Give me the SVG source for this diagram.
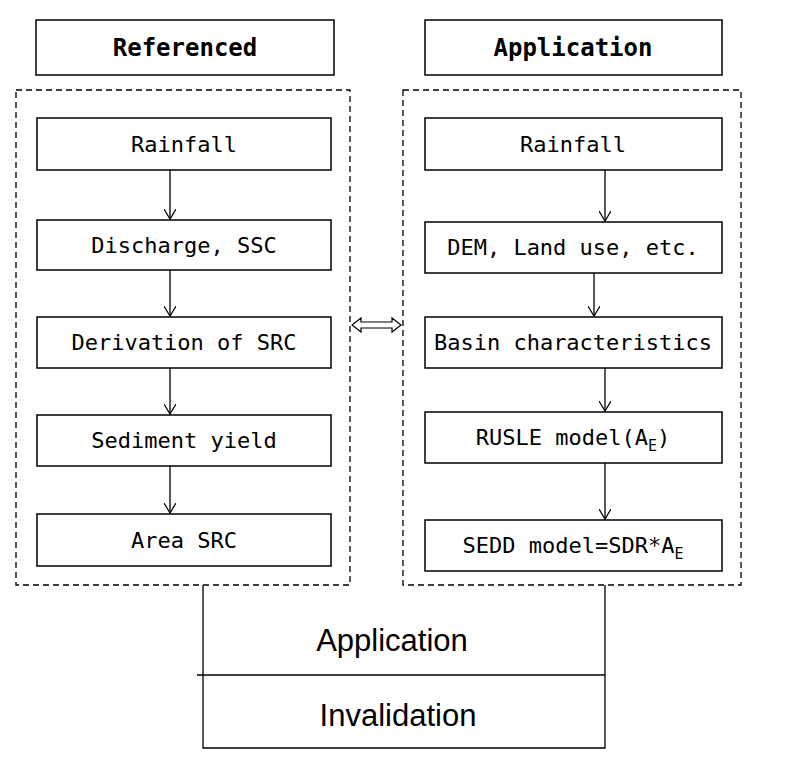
<svg xmlns="http://www.w3.org/2000/svg" width="800" height="772" viewBox="0 0 800 772">
<defs>
<marker id="ah" markerWidth="12" markerHeight="12" refX="10" refY="6" orient="auto" markerUnits="userSpaceOnUse"><path d="M0,0 L10,6 L0,12" fill="none" stroke="#000" stroke-width="1.2"/></marker>
</defs>
<style>
.b{fill:#fff;stroke:#000;stroke-width:1.5}
.d{fill:none;stroke:#000;stroke-width:1.3;stroke-dasharray:6,4}
.t{font-family:"DejaVu Sans Mono",monospace;font-size:22px;text-anchor:middle;fill:#000}
.h{font-family:"DejaVu Sans Mono",monospace;font-size:24px;font-weight:bold;text-anchor:middle}
.s{font-family:"Liberation Sans",Arial,sans-serif;font-size:31px;text-anchor:middle}
.c{stroke:#000;stroke-width:1.3;fill:none}
</style>
<rect width="800" height="772" fill="#fff"/>
<g id="hdrL"><rect class="b" x="36" y="20" width="298" height="55"/><text class="h" x="185" y="56">Referenced</text></g>
<g id="hdrR"><rect class="b" x="425" y="20" width="297" height="55"/><text class="h" x="573" y="56">Application</text></g>
<g id="grpL"><rect class="d" x="16" y="90" width="334" height="495"/></g>
<g id="grpR"><rect class="d" x="403" y="90" width="338" height="495"/></g>
<g id="l1"><rect class="b" x="37" y="118" width="294" height="52"/><text class="t" x="184" y="152">Rainfall</text></g>
<g id="l2"><rect class="b" x="37" y="220" width="294" height="50"/><text class="t" x="184" y="253">Discharge, SSC</text></g>
<g id="l3"><rect class="b" x="37" y="317" width="294" height="51"/><text class="t" x="184" y="350">Derivation of SRC</text></g>
<g id="l4"><rect class="b" x="37" y="415" width="294" height="51"/><text class="t" x="184" y="448">Sediment yield</text></g>
<g id="l5"><rect class="b" x="37" y="514" width="294" height="52"/><text class="t" x="184" y="548">Area SRC</text></g>
<g id="r1"><rect class="b" x="425" y="118" width="297" height="52"/><text class="t" x="573" y="152">Rainfall</text></g>
<g id="r2"><rect class="b" x="425" y="222" width="297" height="51"/><text class="t" x="573" y="255">DEM, Land use, etc.</text></g>
<g id="r3"><rect class="b" x="425" y="317" width="297" height="51"/><text class="t" x="573" y="350">Basin characteristics</text></g>
<g id="r4"><rect class="b" x="425" y="412" width="297" height="51"/><text class="t" x="573" y="445">RUSLE model(A<tspan font-size="15" dy="6">E</tspan><tspan dy="-6">)</tspan></text></g>
<g id="r5"><rect class="b" x="425" y="520" width="297" height="51"/><text class="t" x="573" y="553">SEDD model=SDR*A<tspan font-size="15" dy="6">E</tspan></text></g>
<g id="bottom"><text class="s" x="392" y="651">Application</text><text class="s" x="398" y="726">Invalidation</text></g>
<g id="connectors">
<line class="c" x1="170" y1="170" x2="170" y2="219" marker-end="url(#ah)"/>
<line class="c" x1="170" y1="270" x2="170" y2="316" marker-end="url(#ah)"/>
<line class="c" x1="170" y1="368" x2="170" y2="414" marker-end="url(#ah)"/>
<line class="c" x1="170" y1="466" x2="170" y2="513" marker-end="url(#ah)"/>
<line class="c" x1="605" y1="170" x2="605" y2="221" marker-end="url(#ah)"/>
<line class="c" x1="594" y1="273" x2="594" y2="316" marker-end="url(#ah)"/>
<line class="c" x1="605" y1="368" x2="605" y2="411" marker-end="url(#ah)"/>
<line class="c" x1="605" y1="463" x2="605" y2="519" marker-end="url(#ah)"/>
<path d="M352,325 L361,318 L361,322 L392,322 L392,318 L401,325 L392,332 L392,328 L361,328 L361,332 Z" fill="#fff" stroke="#000" stroke-width="1.2"/>
<polyline class="c" points="203,585 203,748 605,748 605,585"/>
<line class="c" x1="197" y1="675" x2="605" y2="675"/>
</g>
</svg>
